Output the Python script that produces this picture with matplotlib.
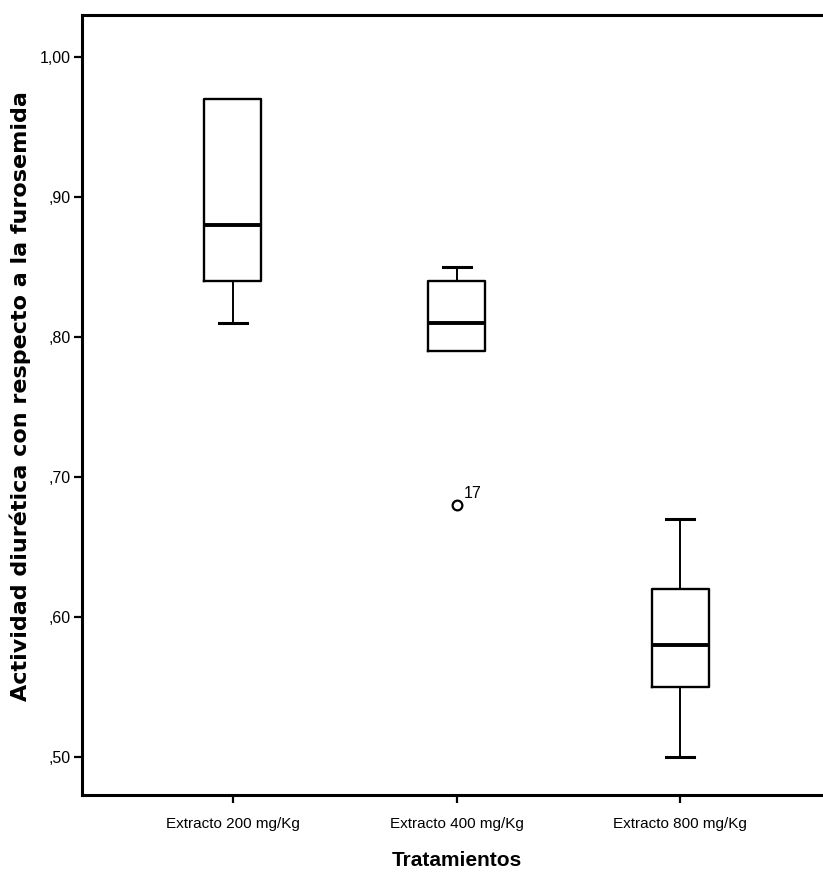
import matplotlib
matplotlib.use("Agg")
import matplotlib.pyplot as plt
from matplotlib.ticker import FixedLocator, FuncFormatter

categories = ["Extracto 200 mg/Kg", "Extracto 400 mg/Kg", "Extracto 800 mg/Kg"]
whislo = [0.81, 0.79, 0.50]
q1 = [0.84, 0.79, 0.55]
med = [0.88, 0.81, 0.58]
q3 = [0.97, 0.84, 0.62]
whishi = [0.97, 0.85, 0.67]
fliers = [[], [0.68], []]
flier_labels = [[], ["17"], []]
yticks = [0.50, 0.60, 0.70, 0.80, 0.90, 1.00]

sans = ["Liberation Sans", "DejaVu Sans"]

fig = plt.figure(figsize=(8.23, 8.75), dpi=100)
ax = fig.add_axes([82/823, 1 - 795/875, 1 - 82/823 + 0.01, (795 - 15)/875])

stats = []
for i in range(len(categories)):
    stats.append(dict(whislo=whislo[i], q1=q1[i], med=med[i], q3=q3[i],
                      whishi=whishi[i], fliers=fliers[i], label=categories[i]))

pos = [1, 2, 3]
res = ax.bxp(stats, positions=pos, widths=0.255, showfliers=True,
             boxprops=dict(color="black", linewidth=1.7),
             medianprops=dict(color="black", linewidth=2.8),
             whiskerprops=dict(color="black", linewidth=1.4),
             capprops=dict(color="black", linewidth=2.2),
             capwidths=0.125,
             flierprops=dict(marker="o", markerfacecolor="white", markeredgecolor="black",
                             markersize=7, markeredgewidth=1.6))

# hide caps where whisker coincides with box edge
for i in range(len(categories)):
    lo_cap, hi_cap = res["caps"][2*i], res["caps"][2*i + 1]
    if whislo[i] == q1[i]:
        lo_cap.set_visible(False)
    if whishi[i] == q3[i]:
        hi_cap.set_visible(False)

for i, (fl, lb) in enumerate(zip(fliers, flier_labels)):
    for v, t in zip(fl, lb):
        ax.annotate(t, (pos[i], v), xytext=(5, 5), textcoords="offset points",
                    fontsize=11.5, family=sans)

ax.set_xlim(0.326, 3.674)
ax.set_ylim(0.4729, 1.03)
ax.yaxis.set_major_locator(FixedLocator(yticks))

def fmt(v, p):
    s = f"{v:.2f}".replace(".", ",")
    if s.startswith("0"):
        s = s[1:]
    return s

ax.yaxis.set_major_formatter(FuncFormatter(fmt))
ax.set_xticks(pos)
ax.set_xticklabels(categories, family=sans, fontsize=11)
for lab in ax.get_yticklabels():
    lab.set_family(sans)
    lab.set_fontsize(11.5)

ax.tick_params(axis="both", direction="out", length=6, width=1.6, color="black")
ax.tick_params(axis="x", pad=10)
ax.tick_params(axis="y", pad=2)
for sp in ax.spines.values():
    sp.set_linewidth(2.2)
    sp.set_color("black")

fig.text(20/823, 1 - 396/875, "Actividad diurética con respecto a la furosemida",
         rotation=90, ha="center", va="center", fontsize=16, fontweight="bold",
         family=["DejaVu Sans"])
ax.set_xlabel("Tratamientos", fontsize=15, fontweight="bold", family=sans, labelpad=14)

fig.savefig("out.png", dpi=100)
